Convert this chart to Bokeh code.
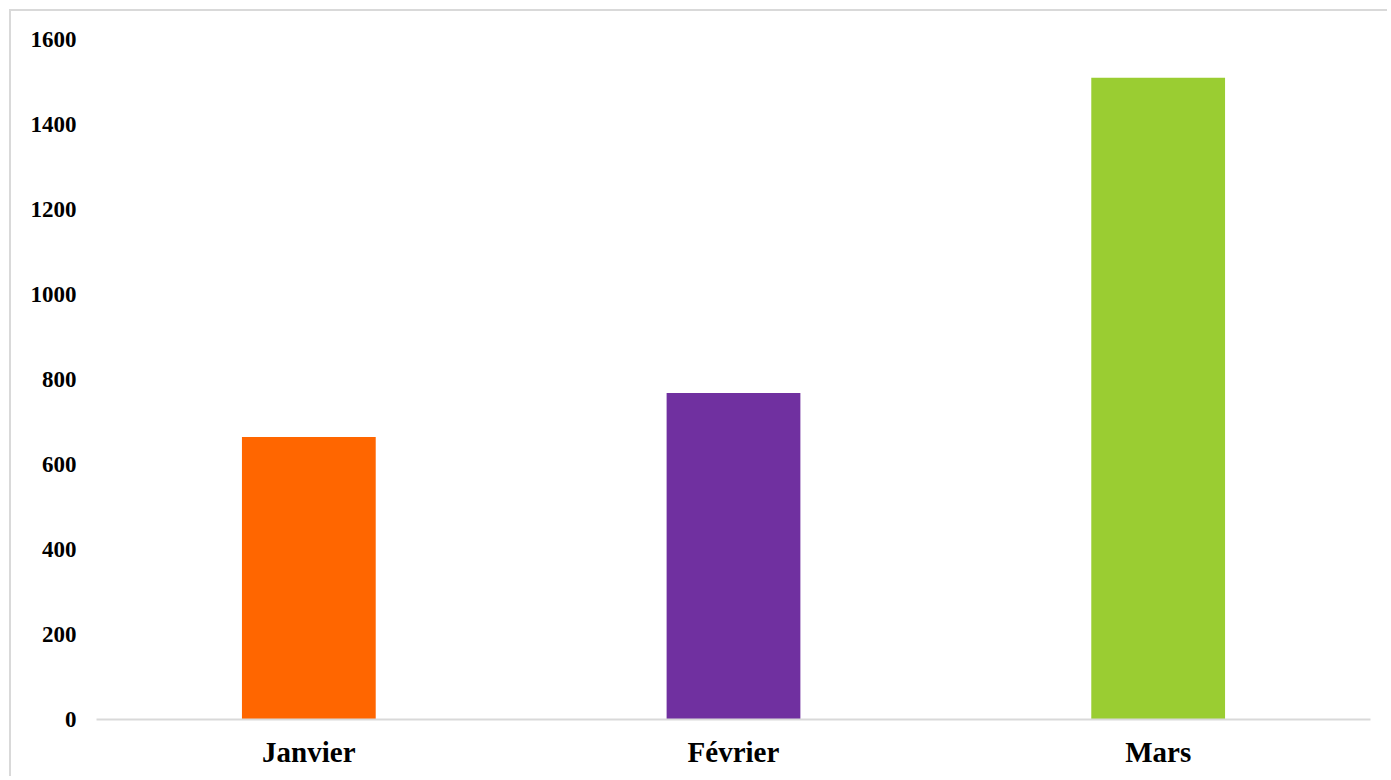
from bokeh.plotting import figure
from bokeh.models import ColumnDataSource, FactorRange, Range1d, FixedTicker
from bokeh.embed import file_html
from bokeh.resources import INLINE

months = ["Janvier", "Février", "Mars"]
values = [665, 768, 1510]
colors = ["#FF6600", "#7030A0", "#9ACD32"]
y_ticks = [0, 200, 400, 600, 800, 1000, 1200, 1400, 1600]

src = ColumnDataSource(dict(month=months, value=values, color=colors))

p = figure(
    x_range=FactorRange(*months, range_padding=0),
    y_range=Range1d(0, 1600),
    width=1378, height=767,
    output_backend="svg", toolbar_location=None,
    min_border_left=85, min_border_right=19,
    min_border_top=28, min_border_bottom=59,
    styles={"border-top": "2px solid #d9d9d9", "border-left": "2px solid #d9d9d9",
            "margin-left": "9px", "margin-top": "9px"},
)
p.vbar(x="month", top="value", width=0.315, color="color", source=src, line_color=None)

p.outline_line_color = None
p.xgrid.visible = False
p.ygrid.visible = False
p.background_fill_color = "white"
p.border_fill_color = "white"

font = "Liberation Serif"
p.yaxis.ticker = FixedTicker(ticks=y_ticks)
p.yaxis.axis_line_color = None
p.yaxis.major_tick_line_color = None
p.yaxis.minor_tick_line_color = None
p.yaxis.major_tick_out = 0
p.yaxis.major_label_standoff = 20
p.yaxis.major_label_text_font = font
p.yaxis.major_label_text_font_style = "bold"
p.yaxis.major_label_text_font_size = "23px"
p.yaxis.major_label_text_color = "black"

p.xaxis.axis_line_color = "#d9d9d9"
p.xaxis.axis_line_width = 2
p.xaxis.major_tick_line_color = None
p.xaxis.minor_tick_line_color = None
p.xaxis.major_tick_out = 0
p.xaxis.major_label_standoff = 16
p.xaxis.major_label_text_font = font
p.xaxis.major_label_text_font_style = "bold"
p.xaxis.major_label_text_font_size = "29px"
p.xaxis.major_label_text_color = "black"

open("out.html", "w").write(file_html(p, INLINE))
